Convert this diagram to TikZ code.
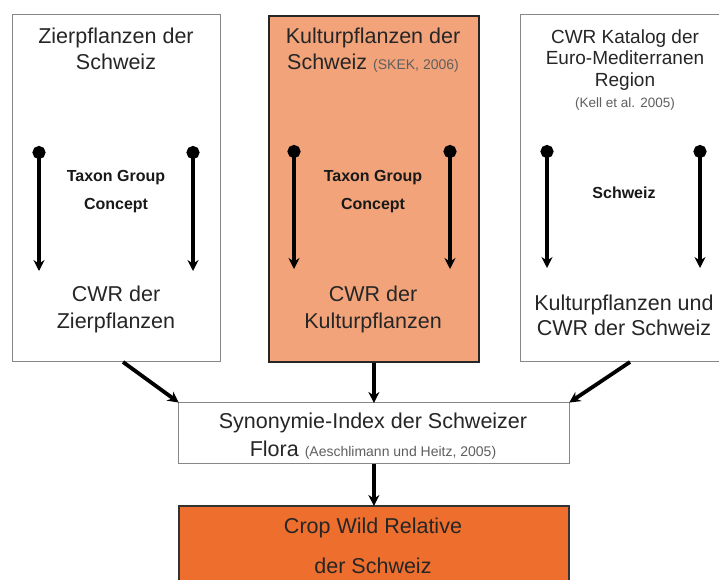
\documentclass[tikz,border=0pt]{standalone}
\usepackage{fontspec}
\setmainfont{Liberation Sans}
\usetikzlibrary{arrows.meta}
\definecolor{salmon}{RGB}{242,163,122}
\definecolor{orangeb}{RGB}{238,110,45}
\definecolor{citegrey}{RGB}{95,95,95}
\definecolor{boxgrey}{RGB}{135,135,135}
\tikzset{
  whitebox/.style={draw=boxgrey, line width=1.1pt, fill=white},
  salmonbox/.style={draw=black!85, line width=1.8pt, fill=salmon},
  orangebox/.style={draw=black!80, line width=1.8pt, fill=orangeb},
  big/.style={anchor=base, inner sep=0pt, font=\fontsize{21.5}{26}\selectfont, text=black!85},
  mid/.style={anchor=base, inner sep=0pt, font=\fontsize{19}{24}\selectfont, text=black!85},
  bold/.style={anchor=base, inner sep=0pt, font=\fontsize{16}{20}\selectfont\bfseries, text=black!90},
  cite/.style={font=\fontsize{13.5}{18}\selectfont, text=citegrey},
  flow/.style={line width=3.8pt, {Circle[length=13pt,width=13pt]}-{Stealth[length=11pt,width=11pt]}},
  conn/.style={line width=3.8pt, -{Stealth[length=11pt,width=11pt]}, shorten >=-1pt},
}
\begin{document}
\begin{tikzpicture}[x=1pt,y=-1pt]
\useasboundingbox (0,0) rectangle (719,579);
\fill[white] (0,0) rectangle (719,579);

% boxes
\node[whitebox, minimum width=208pt, minimum height=347pt, anchor=north west, inner sep=0pt] (zier) at (12,14) {};
\node[salmonbox, minimum width=210pt, minimum height=346pt, anchor=north west, inner sep=0pt] (kult) at (268,15) {};
\node[whitebox, minimum width=210pt, minimum height=347pt, anchor=north west, inner sep=0pt] (cwrk) at (520,14) {};
\node[whitebox, minimum width=391pt, minimum height=61pt, anchor=north west, inner sep=0pt] (syn) at (178,402) {};
\node[orangebox, minimum width=390pt, minimum height=90pt, anchor=north west, inner sep=0pt] (crop) at (178,505) {};

% left box texts
\node[big] (z1) at (116,43) {Zierpflanzen der};
\node[big] (z2) at (116,69) {Schweiz};
\node[bold] (z3) at (116,181) {Taxon Group};
\node[bold] (z4) at (116,209) {Concept};
\node[big] (z5) at (116,301) {CWR der};
\node[big] (z6) at (116,328) {Zierpflanzen};

% middle box texts
\node[big] (k1) at (373,43) {Kulturpflanzen der};
\node[big] (k2) at (373,69) {Schweiz {\fontsize{14}{18}\selectfont\color{citegrey} (SKEK, 2006)}};
\node[bold] (k3) at (373,181) {Taxon Group};
\node[bold] (k4) at (373,209) {Concept};
\node[big] (k5) at (373,301) {CWR der};
\node[big] (k6) at (373,328) {Kulturpflanzen};

% right box texts
\node[mid] (c1) at (625,43) {CWR Katalog der};
\node[mid] (c2) at (625,64) {Euro-Mediterranen};
\node[mid] (c3) at (625,86) {Region};
\node[mid, cite] (c4) at (625,107) {(Kell et al. 2005)};
\node[bold] (c5) at (624,198) {Schweiz};
\node[big] (c6) at (624,310) {Kulturpflanzen und};
\node[big] (c7) at (624,335) {CWR der Schweiz};

% synonymie texts
\node[big] (s1) at (373,428) {Synonymie-Index der Schweizer};
\node[big] (s2) at (373,456) {Flora {\fontsize{14}{18}\selectfont\color{citegrey} (Aeschlimann und Heitz, 2005)}};

% crop texts
\node[big] (r1) at (373,533) {Crop Wild Relative};
\node[big] (r2) at (373,573) {der Schweiz};

% inner flow arrows
\coordinate (za) at (39,146); \coordinate (zb) at (39,271);
\coordinate (zc) at (193,146); \coordinate (zd) at (193,271);
\coordinate (ka) at (294,145); \coordinate (kb) at (294,269);
\coordinate (kc) at (450,145); \coordinate (kd) at (450,269);
\coordinate (ca) at (547,145); \coordinate (cb) at (547,268);
\coordinate (cc) at (700,145); \coordinate (cd) at (700,268);
\draw[flow] (za) -- (zb);
\draw[flow] (zc) -- (zd);
\draw[flow] (ka) -- (kb);
\draw[flow] (kc) -- (kd);
\draw[flow] (ca) -- (cb);
\draw[flow] (cc) -- (cd);

% connectors
\coordinate (zs) at (123,362);
\coordinate (cs) at (630,362);
\draw[conn] (zs) -- (syn.north west);
\draw[conn] (kult.south) -- (kult.south |- syn.north);
\draw[conn] (cs) -- (syn.north east);
\draw[conn] (syn.south -| crop.north) -- (crop.north);
\end{tikzpicture}
\end{document}
